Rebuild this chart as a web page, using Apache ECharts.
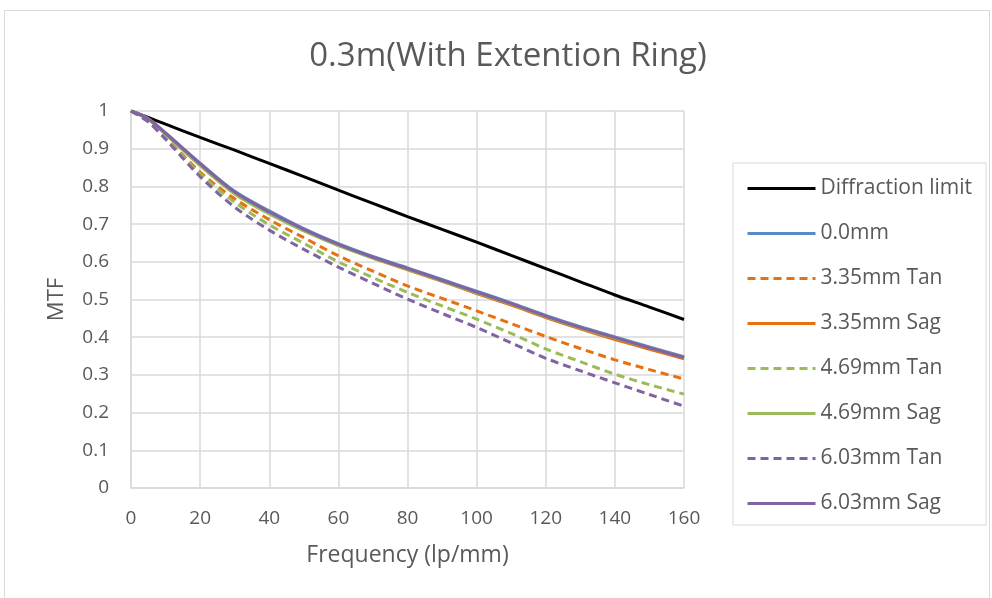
<!DOCTYPE html>
<html>
<head>
<meta charset="utf-8">
<script src="https://cdn.jsdelivr.net/npm/echarts@6/dist/echarts.min.js"></script>
<style>html,body{margin:0;padding:0;background:#fff;}#c{width:992px;height:598px;}</style>
</head>
<body>
<div id="c"></div>
<script>
const titleText = '0.3m(With Extention Ring)';
const xName = 'Frequency (lp/mm)';
const yName = 'MTF';
const freq = [0, 5, 10, 20, 30, 40, 50, 60, 70, 80, 90, 100, 110, 120, 130, 140, 150, 160];

const diffraction = [1, 0.983, 0.965, 0.930, 0.896, 0.861, 0.826, 0.790, 0.755, 0.720, 0.686, 0.652, 0.617, 0.582, 0.547, 0.512, 0.480, 0.447];
const f00     = [1, 0.980, 0.942, 0.862, 0.787, 0.735, 0.688, 0.648, 0.614, 0.584, 0.553, 0.522, 0.491, 0.458, 0.428, 0.401, 0.374, 0.348];
const f335Tan = [1, 0.973, 0.930, 0.838, 0.767, 0.712, 0.664, 0.616, 0.575, 0.536, 0.503, 0.470, 0.436, 0.402, 0.370, 0.340, 0.314, 0.289];
const f335Sag = [1, 0.979, 0.940, 0.858, 0.782, 0.730, 0.683, 0.644, 0.610, 0.579, 0.548, 0.516, 0.485, 0.452, 0.422, 0.394, 0.368, 0.343];
const f469Tan = [1, 0.972, 0.928, 0.833, 0.758, 0.698, 0.649, 0.600, 0.558, 0.519, 0.483, 0.448, 0.410, 0.369, 0.335, 0.302, 0.274, 0.249];
const f469Sag = [1, 0.978, 0.938, 0.855, 0.780, 0.727, 0.682, 0.643, 0.610, 0.580, 0.549, 0.518, 0.488, 0.455, 0.425, 0.398, 0.372, 0.346];
const f603Tan = [1, 0.971, 0.925, 0.826, 0.745, 0.684, 0.633, 0.586, 0.543, 0.501, 0.463, 0.426, 0.385, 0.344, 0.311, 0.279, 0.248, 0.217];
const f603Sag = [1, 0.979, 0.941, 0.860, 0.785, 0.732, 0.686, 0.646, 0.612, 0.582, 0.551, 0.520, 0.489, 0.456, 0.426, 0.399, 0.372, 0.346];

const seriesNames = ['Diffraction limit', '0.0mm', '3.35mm Tan', '3.35mm Sag', '4.69mm Tan', '4.69mm Sag', '6.03mm Tan', '6.03mm Sag'];
const seriesData = [diffraction, f00, f335Tan, f335Sag, f469Tan, f469Sag, f603Tan, f603Sag];
const seriesColors = ['#000000', '#5B8AC9', '#E8700F', '#E8700F', '#9BBB59', '#9BBB59', '#8064A2', '#8064A2'];
const seriesDashed = [false, false, true, false, true, false, true, false];

const FONT = 'Open Sans';
const TXT = '#595959';

const chart = echarts.init(document.getElementById('c'), null, {renderer: 'canvas'});
chart.setOption({
  animation: false,
  backgroundColor: '#ffffff',
  textStyle: {fontFamily: FONT},
  title: {
    text: titleText,
    left: 503, top: 35, textAlign: 'center',
    textStyle: {fontFamily: FONT, fontSize: 33, fontWeight: 'normal', color: TXT}
  },
  graphic: [{
    type: 'rect', silent: true, z: -10,
    shape: {x: 4.5, y: 10.5, width: 985, height: 620},
    style: {fill: 'none', stroke: '#d9d9d9', lineWidth: 1}
  }],
  legend: {
    orient: 'vertical',
    left: 733, top: 163,
    padding: [15, 14, 11, 13],
    itemGap: 24,
    itemWidth: 68, itemHeight: 20,
    borderColor: '#d9d9d9', borderWidth: 1,
    itemStyle: {opacity: 0},
    lineStyle: {width: 3},
    textStyle: {fontFamily: FONT, fontSize: 21, color: TXT, lineHeight: 20},
    data: seriesNames
  },
  grid: {left: 131, right: 308, top: 111, bottom: 110},
  xAxis: {
    type: 'value', min: 0, max: 160, interval: 20,
    name: xName, nameLocation: 'middle', nameGap: 56,
    nameTextStyle: {fontFamily: FONT, fontSize: 23, color: TXT},
    axisLine: {show: true, lineStyle: {color: '#d9d9d9', width: 1.5}},
    axisTick: {show: false},
    axisLabel: {fontFamily: FONT, fontSize: 19, color: TXT, margin: 21},
    splitLine: {show: true, lineStyle: {color: '#d9d9d9', width: 1.5}}
  },
  yAxis: {
    type: 'value', min: 0, max: 1, interval: 0.1,
    name: yName, nameLocation: 'middle', nameGap: 63, nameRotate: 90,
    nameTextStyle: {fontFamily: FONT, fontSize: 22, color: TXT},
    axisLine: {show: true, lineStyle: {color: '#d9d9d9', width: 1.5}},
    axisTick: {show: false},
    axisLabel: {fontFamily: FONT, fontSize: 19, color: TXT, margin: 22},
    splitLine: {show: true, lineStyle: {color: '#d9d9d9', width: 1.5}}
  },
  series: seriesNames.map((name, i) => ({
    name: name,
    type: 'line',
    data: freq.map((f, j) => [f, seriesData[i][j]]),
    symbol: 'none',
    smooth: 0.3,
    color: seriesColors[i],
    lineStyle: {color: seriesColors[i], width: 3, type: seriesDashed[i] ? [8, 5] : 'solid'}
  }))
});
</script>
</body>
</html>
